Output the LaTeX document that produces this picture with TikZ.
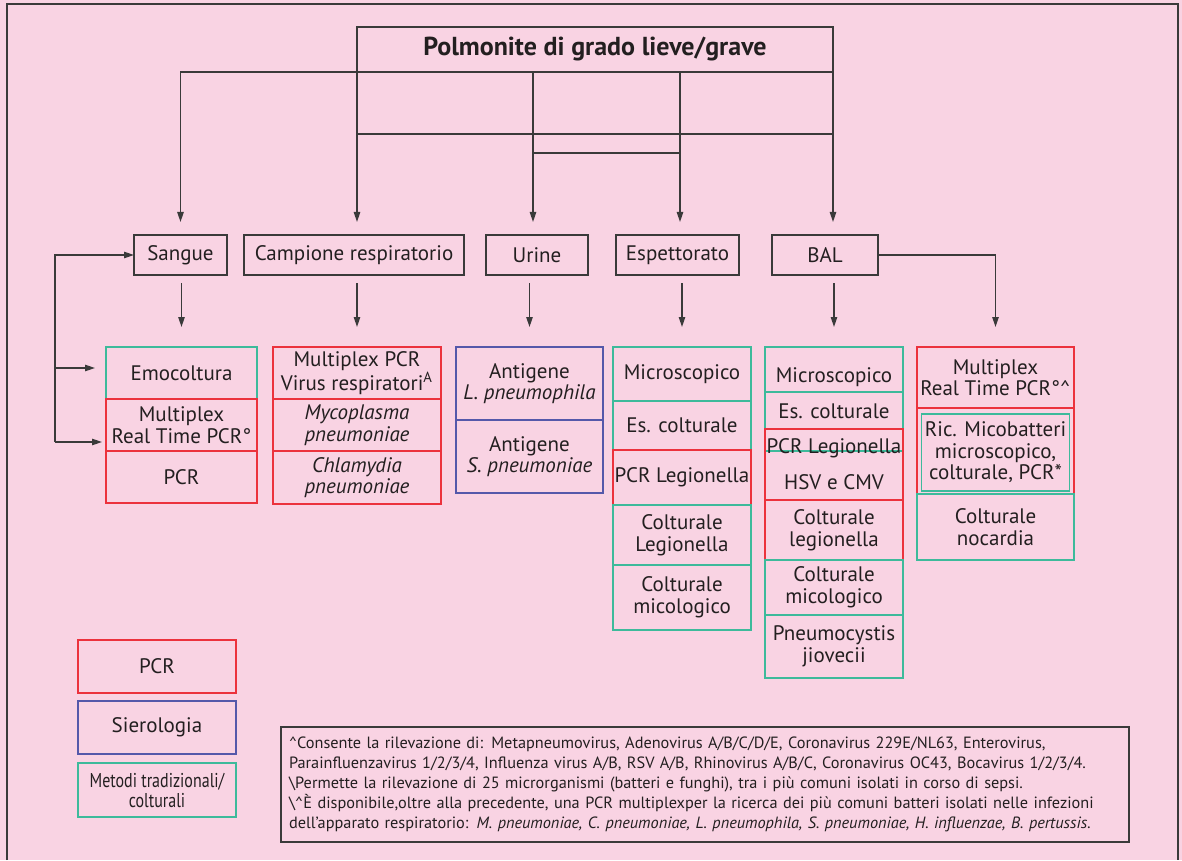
\documentclass[tikz,border=0pt]{standalone}
\usepackage{fontspec}
\setmainfont{PT Sans}
\newfontfamily\condfont[FakeStretch=0.8]{PT Sans}
\usepackage{tikz}
\usetikzlibrary{arrows.meta,positioning,calc}
\definecolor{cBg}{HTML}{F9D3E3}
\definecolor{cLine}{HTML}{3A3A3A}
\definecolor{cText}{HTML}{231F20}
\definecolor{cPcr}{HTML}{EC323D}
\definecolor{cSiero}{HTML}{5558AA}
\definecolor{cCult}{HTML}{3DBA9B}
\tikzset{
  box/.style={draw=#1, line width=0.75pt, outer sep=0pt, inner sep=0pt, align=center,
              text=cText, font=\fontsize{10.5}{10.8}\selectfont},
  src/.style={box=cLine, minimum height=20pt},
  cell/.style 2 args={box=#1, minimum height=#2},
  ital/.style={font=\fontsize{10.5}{10.8}\selectfont\itshape},
  conn/.style={draw=cLine, line width=0.7pt},
  arr/.style={conn, -{Triangle[length=5pt,width=3.2pt]}, shorten >=6.5pt},
  down/.style={arr, shorten <=4pt, shorten >=10pt},
  note/.style={draw=cLine, line width=0.7pt, outer sep=0pt, inner xsep=4pt, inner ysep=0pt,
               align=left, text width=416pt, minimum height=57.5pt, text=cText,
               font=\fontsize{8.15}{10}\selectfont},
}

\begin{document}
\begin{tikzpicture}[x=0.5pt, y=-0.5pt, node distance=0pt]
  \fill[cBg] (0,0) rectangle (1182,860);
  \draw[cLine, line width=1pt] (7,860) -- (7,4) -- (1178,4) -- (1178,860);

  \node[box=cLine, minimum width=238pt, minimum height=22.5pt, anchor=north west,
        font=\fontsize{13}{15}\selectfont\bfseries] (title) at (357,27) {Polmonite di grado lieve/grave};

  % campioni
  \node[src, minimum width=46.5pt] (sangue) at (180.5,255) {Sangue};
  \node[src, minimum width=110pt, right=8.5pt of sangue] (camp) {Campione respiratorio};
  \node[src, minimum width=51pt, right=11pt of camp] (urine) {Urine};
  \node[src, minimum width=61.5pt, right=14pt of urine] (espett) {Espettorato};
  \node[src, minimum width=53pt, right=16.5pt of espett] (bal) {BAL};

  % sangue
  \node[cell={cCult}{26pt}, minimum width=75.5pt, anchor=north west] (sA) at (106,347) {Emocoltura};
  \node[cell={cPcr}{26pt}, minimum width=75.5pt, below=of sA] (sB) {Multiplex\\Real Time PCR°};
  \node[cell={cPcr}{26pt}, minimum width=75.5pt, below=of sB] (sC) {PCR};

  % campione respiratorio
  \node[cell={cPcr}{26pt}, minimum width=84pt, anchor=north west] (cA) at (273,347) {Multiplex PCR\\Virus respiratori\textsuperscript{A}};
  \node[cell={cPcr}{26pt}, minimum width=84pt, below=of cA, ital] (cB) {Mycoplasma\\pneumoniae};
  \node[cell={cPcr}{26.5pt}, minimum width=84pt, below=of cB, ital] (cC) {Chlamydia\\pneumoniae};

  % urine
  \node[cell={cSiero}{36.5pt}, minimum width=73.5pt, anchor=north west] (uA) at (456,347) {Antigene\\\textit{L. pneumophila}};
  \node[cell={cSiero}{36.5pt}, minimum width=73.5pt, below=of uA] (uB) {Antigene\\\textit{S. pneumoniae}};

  % espettorato
  \node[cell={cCult}{27pt}, minimum width=69pt, anchor=north west] (eA) at (613,347) {Microscopico};
  \node[cell={cCult}{24.5pt}, minimum width=69pt, below=of eA] (eB) {Es. colturale};
  \node[cell={cPcr}{27.5pt}, minimum width=69pt, below=of eB] (eC) {PCR Legionella};
  \node[cell={cCult}{30pt}, minimum width=69pt, below=of eC] (eD) {Colturale\\Legionella};
  \node[cell={cCult}{32.5pt}, minimum width=69pt, below=of eD] (eE) {Colturale\\micologico};

  % BAL
  \node[cell={cCult}{22.5pt}, minimum width=69pt, anchor=north west, text height=15pt, text depth=2.2pt] (bA) at (765,347) {Microscopico};
  \node[cell={cCult}{29.5pt}, minimum width=69pt, below=of bA, text height=7.6pt, text depth=10.6pt] (bB) {Es. colturale};
  \node[cell={cPcr}{35.5pt}, minimum width=69pt, below=-11pt of bB] (bC) {PCR Legionella\\[7.2pt]HSV e CMV};
  \node[cell={cPcr}{30pt}, minimum width=69pt, below=of bC] (bD) {Colturale\\legionella};
  \node[cell={cCult}{27.5pt}, minimum width=69pt, below=of bD] (bE) {Colturale\\micologico};
  \node[cell={cCult}{31.5pt}, minimum width=69pt, below=of bE] (bF) {Pneumocystis\\jiovecii};

  % BAL, seconda colonna
  \node[cell={cPcr}{30.5pt}, minimum width=78.5pt, anchor=north west] (rA) at (917,347) {Multiplex\\Real Time PCR°\textasciicircum};
  \node[cell={cPcr}{43pt}, minimum width=78.5pt, below=of rA] (rB) {};
  \node[cell={cCult}{38.5pt}, minimum width=74pt] (rMic) at ([yshift=-0.75pt]rB.center) {Ric. Micobatteri\\microscopico,\\colturale, PCR*};
  \node[cell={cCult}{33pt}, minimum width=78.5pt, below=of rB] (rC) {Colturale\\nocardia};

  % legenda
  \node[cell={cPcr}{26.5pt}, minimum width=79pt, anchor=north west] (lgPcr) at (78,640) {PCR};
  \node[cell={cSiero}{26.5pt}, minimum width=79pt, below=4pt of lgPcr] (lgSiero) {Sierologia};
  \node[cell={cCult}{27pt}, minimum width=79pt, below=4.5pt of lgSiero,
        font=\condfont\fontsize{10}{10}\selectfont] (lgCult) {Metodi tradizionali/\\colturali};

  \node[note, anchor=north west] (fn) at (281,727) {\textasciicircum Consente la rilevazione di: Metapneumovirus, Adenovirus A/B/C/D/E, Coronavirus 229E/NL63, Enterovirus,\\
    Parainfluenzavirus 1/2/3/4, Influenza virus A/B, RSV A/B, Rhinovirus A/B/C, Coronavirus OC43, Bocavirus 1/2/3/4.\\
    \textbackslash Permette la rilevazione di 25 microrganismi (batteri e funghi), tra i più comuni isolati in corso di sepsi.\\
    \textbackslash\textasciicircum È disponibile,oltre alla precedente, una PCR multiplexper la ricerca dei più comuni batteri isolati nelle infezioni\\
    dell’apparato respiratorio: \textit{M. pneumoniae, C. pneumoniae, L. pneumophila, S. pneumoniae, H. influenzae, B. pertussis.}};

  % dal quadro clinico ai campioni
  \coordinate (ju) at (533,72);
  \coordinate (je) at (680,72);
  \draw[arr] (title.south west) -| (sangue.north);
  \draw[arr] (title.south west) -- (title.south west |- camp.north);
  \draw[arr] (ju) -- (ju |- urine.north);
  \draw[arr] (je) -- (je |- espett.north);
  \draw[arr] (title.south east) -- (title.south east |- bal.north);
  \draw[conn] ([yshift=-31pt]title.south west) -- ([yshift=-31pt]title.south east);
  \draw[conn] ([yshift=-40.5pt]ju) -- ([yshift=-40.5pt]je);

  % dai campioni agli esami
  \draw[down] (sangue.south -| sA.north) -- (sA.north);
  \draw[down] (camp.south -| cA.north) -- (cA.north);
  \draw[down] (urine.south -| uA.north) -- (uA.north);
  \draw[down] (espett.south -| eA.north) -- (eA.north);
  \draw[down] (bal.south -| bA.north) -- (bA.north);
  \draw[arr, shorten >=10pt] (bal.east) -| (rA.north);

  % rinvio al sangue
  \coordinate (lp) at (55,442);
  \coordinate (lpE) at (55,368);
  \draw[arr, shorten >=0pt] (lp) |- (sangue.west);
  \draw[arr, shorten >=5.5pt] (lpE) -- (lpE -| sA.west);
  \draw[arr, shorten >=2pt] (lp) -- (lp -| sB.west);
\end{tikzpicture}
\end{document}
